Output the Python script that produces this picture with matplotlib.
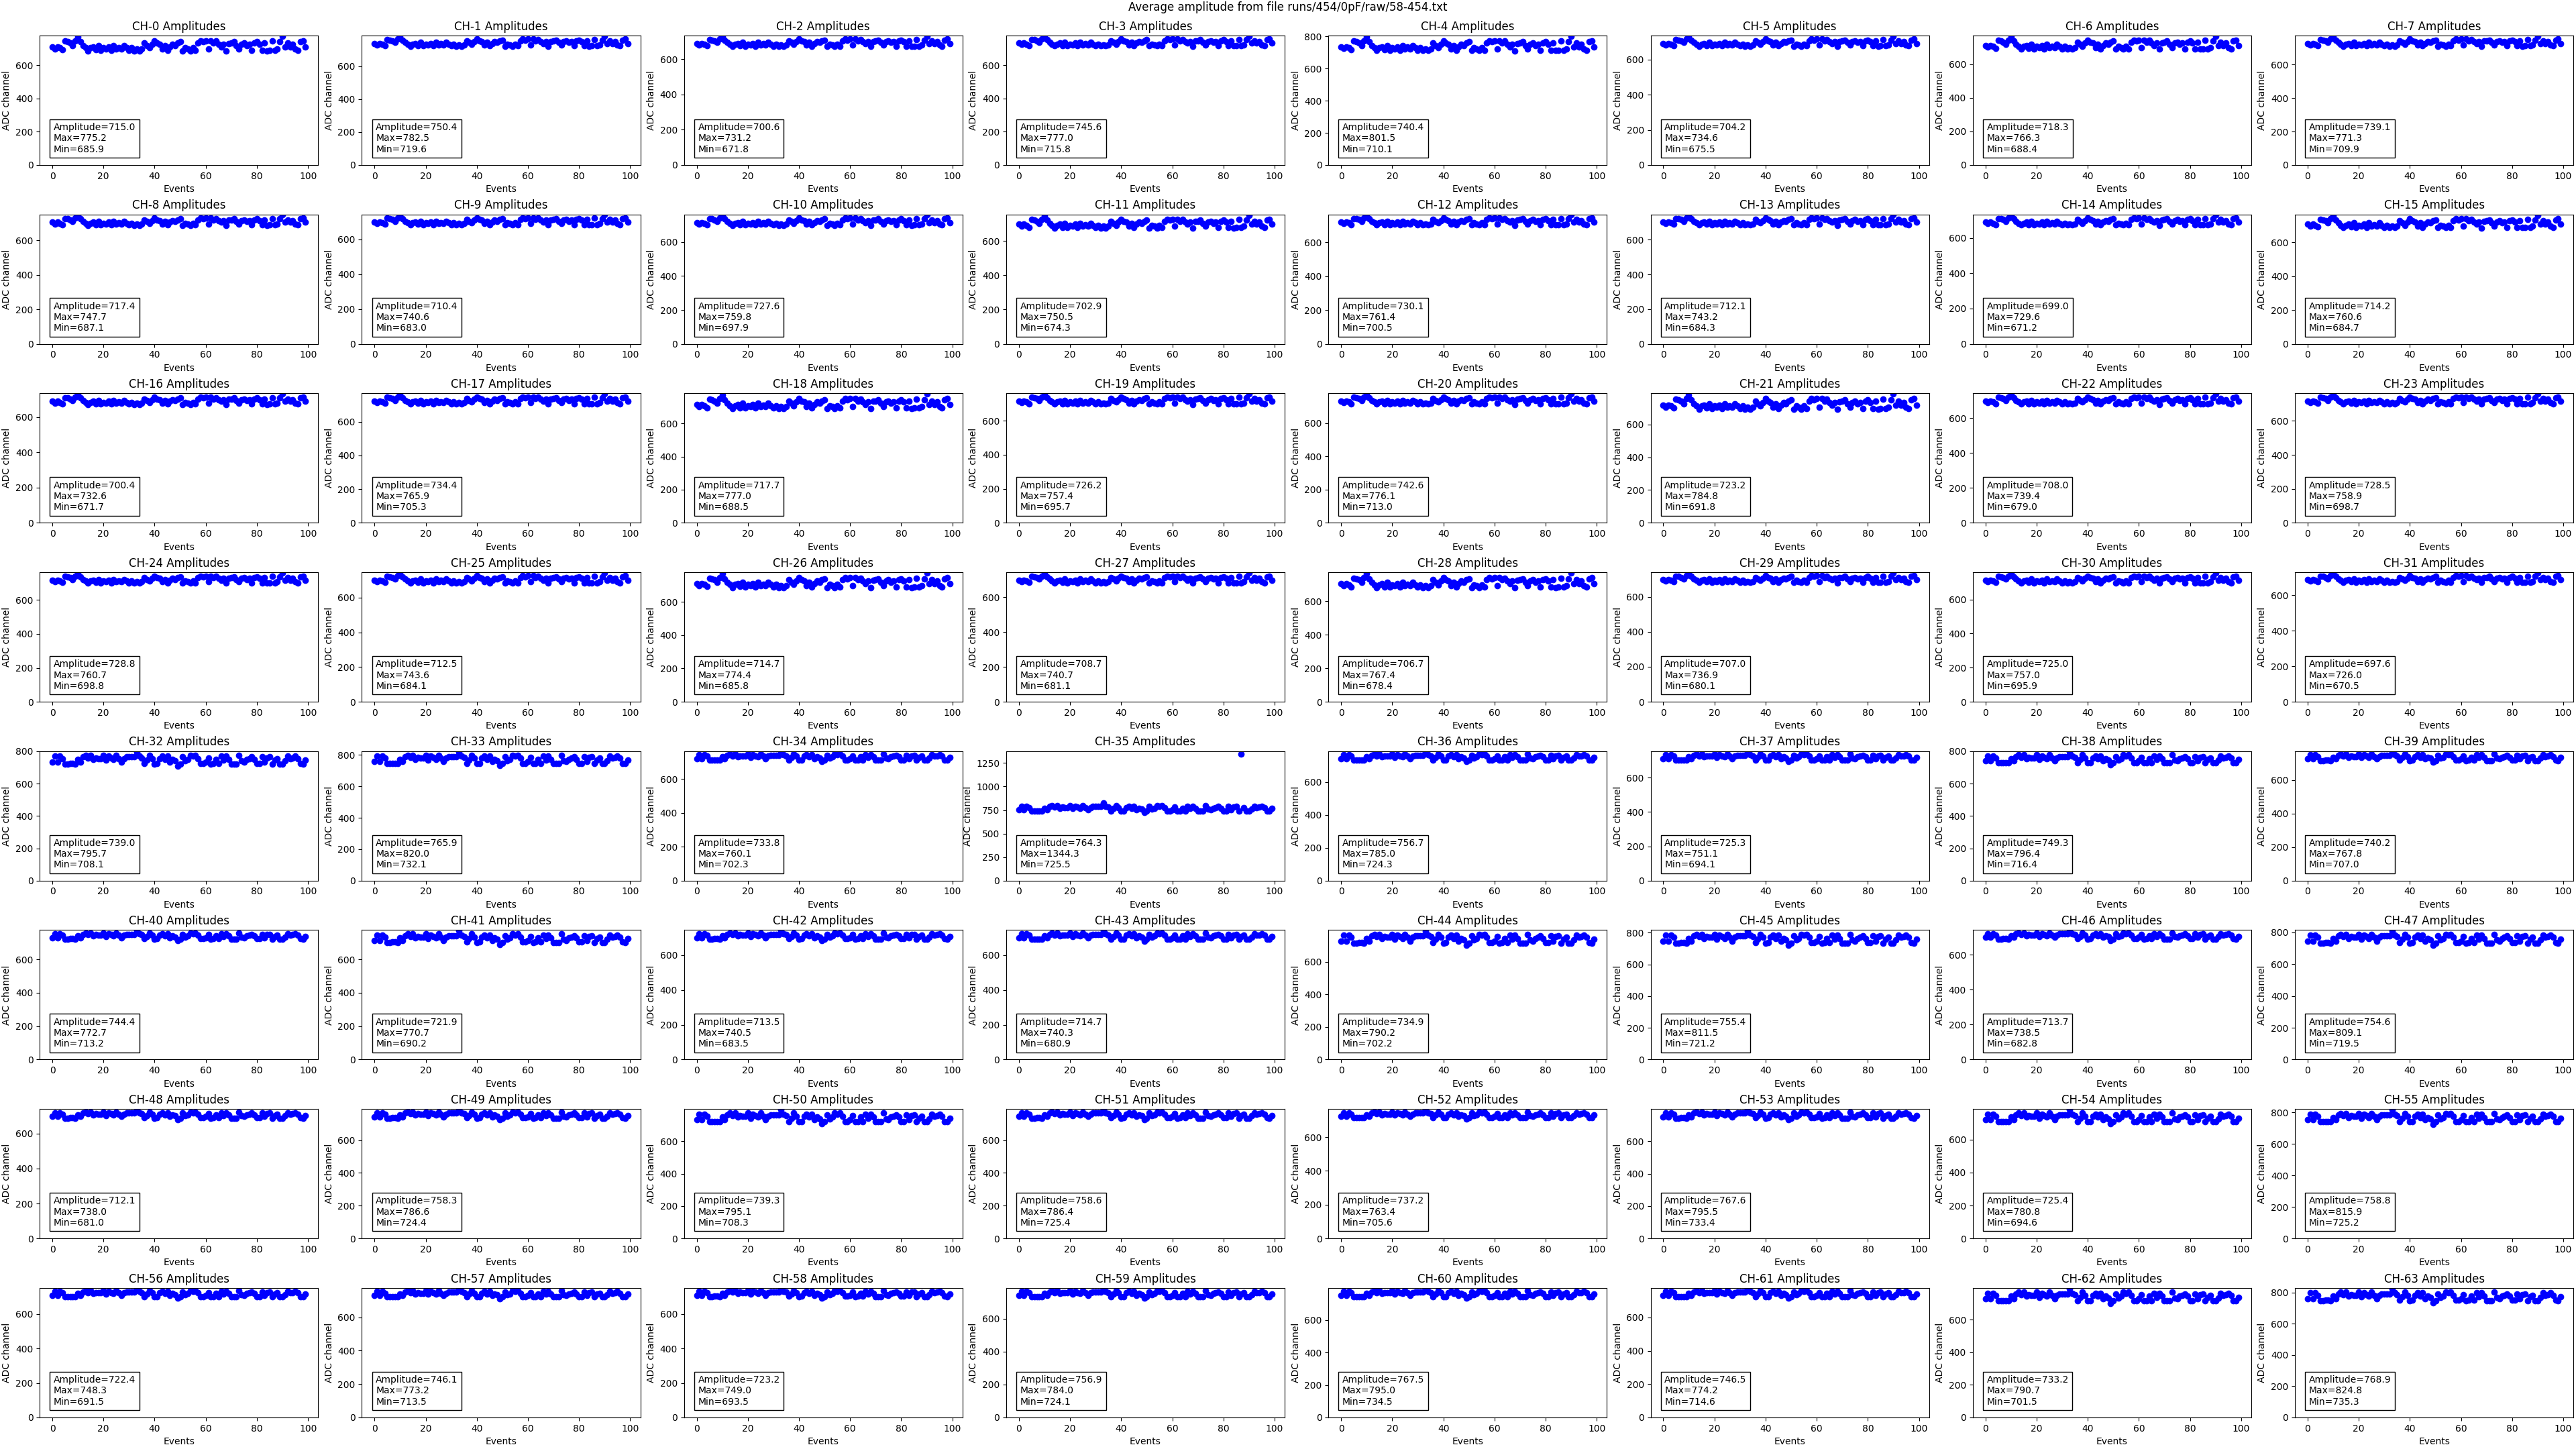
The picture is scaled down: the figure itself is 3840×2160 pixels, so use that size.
import numpy as np
import matplotlib
matplotlib.use("Agg")
import matplotlib.pyplot as plt

# per-channel numbers, as printed in the boxes
amplitude = [715.0, 750.4, 700.6, 745.6, 740.4, 704.2, 718.3, 739.1,
             717.4, 710.4, 727.6, 702.9, 730.1, 712.1, 699.0, 714.2,
             700.4, 734.4, 717.7, 726.2, 742.6, 723.2, 708.0, 728.5,
             728.8, 712.5, 714.7, 708.7, 706.7, 707.0, 725.0, 697.6,
             739.0, 765.9, 733.8, 764.3, 756.7, 725.3, 749.3, 740.2,
             744.4, 721.9, 713.5, 714.7, 734.9, 755.4, 713.7, 754.6,
             712.1, 758.3, 739.3, 758.6, 737.2, 767.6, 725.4, 758.8,
             722.4, 746.1, 723.2, 756.9, 767.5, 746.5, 733.2, 768.9]
max_vals = [775.2, 782.5, 731.2, 777.0, 801.5, 734.6, 766.3, 771.3,
            747.7, 740.6, 759.8, 750.5, 761.4, 743.2, 729.6, 760.6,
            732.6, 765.9, 777.0, 757.4, 776.1, 784.8, 739.4, 758.9,
            760.7, 743.6, 774.4, 740.7, 767.4, 736.9, 757.0, 726.0,
            795.7, 820.0, 760.1, 1344.3, 785.0, 751.1, 796.4, 767.8,
            772.7, 770.7, 740.5, 740.3, 790.2, 811.5, 738.5, 809.1,
            738.0, 786.6, 795.1, 786.4, 763.4, 795.5, 780.8, 815.9,
            748.3, 773.2, 749.0, 784.0, 795.0, 774.2, 790.7, 824.8]
min_vals = [685.9, 719.6, 671.8, 715.8, 710.1, 675.5, 688.4, 709.9,
            687.1, 683.0, 697.9, 674.3, 700.5, 684.3, 671.2, 684.7,
            671.7, 705.3, 688.5, 695.7, 713.0, 691.8, 679.0, 698.7,
            698.8, 684.1, 685.8, 681.1, 678.4, 680.1, 695.9, 670.5,
            708.1, 732.1, 702.3, 725.5, 724.3, 694.1, 716.4, 707.0,
            713.2, 690.2, 683.5, 680.9, 702.2, 721.2, 682.8, 719.5,
            681.0, 724.4, 708.3, 725.4, 705.6, 733.4, 694.6, 725.2,
            691.5, 713.5, 693.5, 724.1, 734.5, 714.6, 701.5, 735.3]

profile_a = [712, 700, 712, 705, 693, 745, 741, 734, 720, 748,
             770, 741, 720, 705, 688, 705, 712, 693, 720, 690,
             705, 698, 712, 690, 720, 698, 708, 698, 720, 705,
             690, 705, 688, 698, 688, 698, 734, 720, 705, 727,
             748, 734, 727, 698, 720, 690, 712, 727, 720, 734,
             741, 688, 705, 698, 688, 705, 690, 734, 748, 741,
             748, 698, 748, 734, 745, 727, 712, 727, 686, 730,
             734, 741, 720, 698, 727, 734, 720, 727, 690, 734,
             741, 727, 690, 734, 688, 690, 745, 690, 698, 741,
             775, 712, 734, 712, 727, 698, 690, 741, 748, 712]
profile_b = [750, 790, 750, 790, 775, 735, 735, 738, 738, 735,
             768, 750, 785, 797, 780, 797, 768, 780, 775, 775,
             797, 762, 790, 780, 768, 797, 775, 750, 775, 785,
             785, 785, 785, 822, 790, 780, 738, 762, 797, 775,
             735, 738, 775, 790, 768, 790, 750, 768, 757, 720,
             735, 785, 757, 768, 797, 790, 797, 775, 738, 738,
             750, 780, 735, 738, 768, 738, 790, 762, 790, 768,
             735, 735, 735, 797, 757, 750, 768, 775, 785, 768,
             738, 738, 785, 750, 780, 785, 735, 762, 775, 735,
             735, 757, 790, 775, 780, 790, 775, 738, 735, 762]

# CH-35 has one stray event far above the rest
spike_event = {35: 87}
band_top = {35: 822.0}

events = np.arange(100)

fig, axes = plt.subplots(8, 8, figsize=(38.4, 21.6), dpi=100)
fig.subplots_adjust(left=0.0154, right=0.999, top=0.9755, bottom=0.0218,
                    wspace=0.157, hspace=0.382)

for ch in range(64):
    ax = axes[ch // 8, ch % 8]
    p = np.array(profile_a if ch < 32 else profile_b, dtype=float)
    lo = min_vals[ch]
    hi = band_top.get(ch, max_vals[ch])
    y = lo + (p - p.min()) / (p.max() - p.min()) * (hi - lo)
    if ch in spike_event:
        y[spike_event[ch]] = max_vals[ch]

    ax.scatter(events, y, color="blue")
    ax.set_ylim(bottom=0)
    ax.set_title(f"CH-{ch} Amplitudes")
    ax.set_xlabel("Events")
    ax.set_ylabel("ADC channel")
    txt = f"Amplitude={amplitude[ch]:.1f}\nMax={max_vals[ch]:.1f}\nMin={min_vals[ch]:.1f}"
    ax.text(0.05, 0.1, txt, transform=ax.transAxes,
            bbox=dict(facecolor="white", edgecolor="black"))

fig.suptitle("Average amplitude from file runs/454/0pF/raw/58-454.txt", y=0.999, va="top")

fig.savefig("out.png", dpi=100)
plt.close(fig)
